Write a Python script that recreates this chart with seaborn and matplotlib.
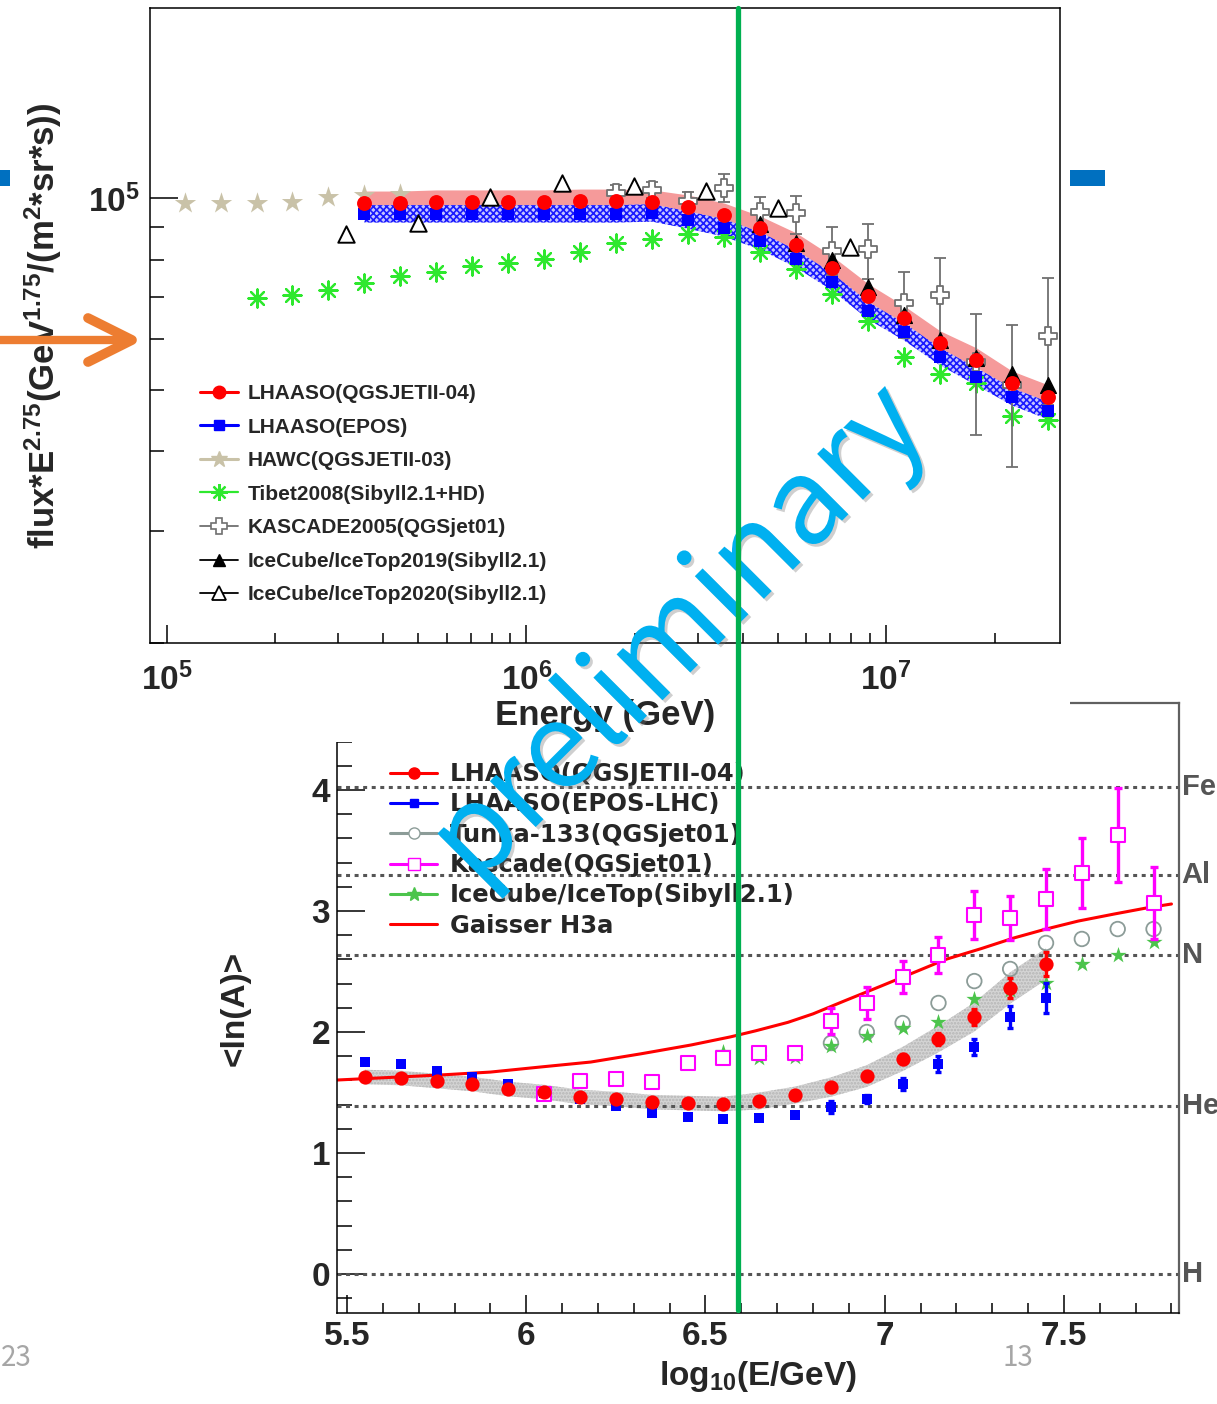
import numpy as np
import matplotlib
matplotlib.use('Agg')
import matplotlib.pyplot as plt
import seaborn as sns
from matplotlib.lines import Line2D
from matplotlib.patches import Rectangle
import matplotlib.patheffects as pe

# ---------------- top panel: flux*E^2.75 vs energy ----------------
lhaaso_loge = [5.55, 5.65, 5.75, 5.85, 5.95, 6.05, 6.15, 6.25, 6.35, 6.45,
               6.55, 6.65, 6.75, 6.85, 6.95, 7.05, 7.15, 7.25, 7.35, 7.45]
qgs_flux = [98200, 98200, 98600, 98600, 98600, 98600, 98900, 98900, 98600, 96800,
            94000, 89700, 84400, 77600, 70200, 64800, 59200, 55700, 51200, 48700]
epos_flux = [94400, 94400, 94400, 94400, 94400, 94400, 94400, 94400, 94700, 92300,
             89700, 85600, 80200, 73800, 66500, 61600, 56300, 52400, 48700, 46300]
qgs_sys = (0.045, 0.025)    # relative band up / down
epos_sys = (0.033, 0.030)

hawc_loge = [5.05, 5.15, 5.25, 5.35, 5.45, 5.55, 5.65]
hawc_flux = [98200, 98200, 98200, 98600, 100400, 101100, 101500]

tibet_loge = [5.25, 5.35, 5.45, 5.55, 5.65, 5.75, 5.85, 5.95, 6.05, 6.15, 6.25, 6.35,
              6.45, 6.55, 6.65, 6.75, 6.85, 6.95, 7.05, 7.15, 7.25, 7.35, 7.45]
tibet_flux = [69700, 70400, 71700, 73500, 75400, 76500, 78200, 79100, 80200, 82300, 85000, 86200,
              87800, 86800, 82300, 77400, 70700, 64100, 56300, 52900, 51200, 45500, 44800]

kascade05_loge = [6.25, 6.35, 6.45, 6.55, 6.65, 6.75, 6.85, 6.95, 7.05, 7.15, 7.25, 7.35, 7.45]
kascade05_flux = [101800, 102900, 98900, 103700, 95100, 94700, 82600, 83200, 68400, 70400, 55300, 50900, 60700]
kascade05_lo = [99300, 100000, 95700, 98600, 90400, 87800, 75700, 74600, 60300, 59900, 42500, 37800, 47300]
kascade05_hi = [104800, 106000, 102200, 109100, 100400, 100700, 90000, 91000, 76500, 80500, 65800, 63200, 74900]

icetop19_loge = [6.65, 6.75, 6.85, 6.95, 7.05, 7.15, 7.25, 7.35, 7.45]
icetop19_flux = [91000, 85000, 79900, 72500, 65500, 59900, 56100, 52900, 50900]

icetop20_loge = [5.5, 5.7, 5.9, 6.1, 6.3, 6.5, 6.7, 6.9]
icetop20_flux = [87800, 91400, 100400, 105600, 104400, 102600, 96400, 83800]

# ---------------- bottom panel: <lnA> vs log10(E/GeV) ----------------
qgs_lna = [1.628, 1.620, 1.595, 1.570, 1.529, 1.504, 1.463, 1.446, 1.421, 1.413,
           1.405, 1.430, 1.479, 1.545, 1.636, 1.777, 1.942, 2.124, 2.364, 2.562]
qgs_lna_err = [0.02, 0.02, 0.02, 0.02, 0.02, 0.02, 0.02, 0.02, 0.02, 0.02,
               0.02, 0.02, 0.02, 0.03, 0.03, 0.04, 0.05, 0.07, 0.08, 0.10]
qgs_band_w = [0.06, 0.06, 0.06, 0.06, 0.06, 0.06, 0.06, 0.06, 0.06, 0.06,
              0.06, 0.07, 0.07, 0.08, 0.09, 0.10, 0.11, 0.12, 0.13, 0.13]
epos_lna = [1.752, 1.736, 1.678, 1.628, 1.570, 1.496, 1.446, 1.388, 1.331, 1.298,
            1.281, 1.289, 1.314, 1.380, 1.446, 1.570, 1.736, 1.876, 2.124, 2.281]
epos_lna_err = [0.02, 0.02, 0.02, 0.02, 0.02, 0.02, 0.02, 0.02, 0.02, 0.02,
                0.02, 0.02, 0.02, 0.05, 0.03, 0.05, 0.065, 0.07, 0.09, 0.12]

tunka_loge = [6.85, 6.95, 7.05, 7.15, 7.25, 7.35, 7.45, 7.55, 7.65, 7.75]
tunka_lna = [1.909, 2.000, 2.074, 2.240, 2.421, 2.521, 2.736, 2.769, 2.851, 2.851]

kascade_loge = [6.05, 6.15, 6.25, 6.35, 6.45, 6.55, 6.65, 6.75, 6.85,
                6.95, 7.05, 7.15, 7.25, 7.35, 7.45, 7.55, 7.65, 7.75]
kascade_lna = [1.488, 1.595, 1.612, 1.587, 1.744, 1.785, 1.826, 1.826, 2.091,
               2.240, 2.455, 2.636, 2.967, 2.942, 3.099, 3.314, 3.628, 3.066]
kascade_lna_err = [0.02, 0.02, 0.02, 0.02, 0.02, 0.02, 0.03, 0.05, 0.11,
                   0.13, 0.13, 0.15, 0.20, 0.18, 0.25, 0.29, 0.39, 0.30]

icetop_loge = [6.55, 6.65, 6.75, 6.85, 6.95, 7.05, 7.15, 7.25, 7.35, 7.45, 7.55, 7.65, 7.75]
icetop_lna = [1.835, 1.785, 1.793, 1.884, 1.967, 2.033, 2.083, 2.273, 2.347, 2.405, 2.562, 2.636, 2.744]

h3a_loge = [5.47, 5.76, 5.90, 6.04, 6.18, 6.32, 6.46, 6.57, 6.64, 6.73, 6.80, 6.89,
            6.99, 7.08, 7.17, 7.27, 7.36, 7.45, 7.54, 7.64, 7.73, 7.80]
h3a_lna = [1.603, 1.645, 1.669, 1.711, 1.752, 1.820, 1.893, 1.960, 2.010, 2.080, 2.150, 2.260,
           2.380, 2.490, 2.600, 2.690, 2.777, 2.851, 2.917, 2.975, 3.025, 3.058]

elements = ['Fe', 'Al', 'N', 'He', 'H']
element_lna = [np.log(56), np.log(27), np.log(14), np.log(4), 0.0]

# ---------------- style ----------------
sns.set_style('ticks')
plt.rcParams['font.family'] = ['Liberation Sans', 'DejaVu Sans']
plt.rcParams['mathtext.fontset'] = 'custom'
plt.rcParams['mathtext.rm'] = 'Liberation Sans'
plt.rcParams['mathtext.bf'] = 'Liberation Sans:bold'
plt.rcParams['mathtext.it'] = 'Liberation Sans:italic'
plt.rcParams['mathtext.default'] = 'bf'
plt.rcParams['hatch.linewidth'] = 1.2

W, H = 1217, 1404
def fx(px):
    return px / W
def fy(py):
    return 1 - py / H

fig = plt.figure(figsize=(W / 100, H / 100), dpi=100)
ax2 = fig.add_axes([fx(337), fy(1313), 842 / W, 610 / H])
ax1 = fig.add_axes([fx(150), fy(643), 910 / W, 635 / H])
ax2.set_zorder(0)
ax1.set_zorder(2)
# white background of the upper picture, hiding the top of the lower one
fig.add_artist(Rectangle((0, fy(742)), fx(1070), 742 / H, transform=fig.transFigure,
                         facecolor='white', edgecolor='none', zorder=1))

RED, BLUE = '#ff0000', '#0000ff'
TAN, TIBET = '#c9c2a8', '#2ee82e'
KGRAY = '#707070'
ASTER = (8, 2, 0)

# ---------------- top panel ----------------
ax1.set_xscale('log')
ax1.set_yscale('log')
e_lh = np.power(10.0, lhaaso_loge)
qgs = np.array(qgs_flux, float)
epos = np.array(epos_flux, float)
ax1.fill_between(e_lh, qgs * (1 + qgs_sys[0]), qgs * (1 - qgs_sys[1]),
                 color='#f59a9a', lw=0, zorder=1)
ax1.fill_between(e_lh, epos * (1 + epos_sys[0]), epos * (1 - epos_sys[1]),
                 facecolor='#c4c4ff', edgecolor='#1a1aff', hatch='xxxxx', lw=0, zorder=2)

sns.scatterplot(x=np.power(10.0, hawc_loge), y=hawc_flux, ax=ax1, marker='*', s=260,
                color=TAN, edgecolor=TAN, linewidth=0, zorder=3, legend=False)
sns.scatterplot(x=np.power(10.0, tibet_loge), y=tibet_flux, ax=ax1, marker=ASTER, s=170,
                color=TIBET, linewidth=1.6, zorder=3, legend=False)
k_e = np.power(10.0, kascade05_loge)
k_f = np.array(kascade05_flux, float)
ax1.errorbar(k_e, k_f, yerr=[k_f - np.array(kascade05_lo), np.array(kascade05_hi) - k_f],
             fmt='none', ecolor=KGRAY, elinewidth=1.3, capsize=4, capthick=1.3, zorder=3)
sns.scatterplot(x=k_e, y=k_f, ax=ax1, marker='P', s=170, color='white',
                edgecolor=KGRAY, linewidth=1.3, zorder=3, legend=False)
sns.scatterplot(x=np.power(10.0, icetop19_loge), y=icetop19_flux, ax=ax1, marker='^', s=130,
                color='black', edgecolor='black', zorder=3, legend=False)
sns.scatterplot(x=e_lh, y=epos, ax=ax1, marker='s', s=75, color=BLUE, edgecolor=BLUE,
                linewidth=0, zorder=4, legend=False)
sns.scatterplot(x=e_lh, y=qgs, ax=ax1, marker='o', s=115, color=RED, edgecolor=RED,
                linewidth=0, zorder=5, legend=False)
sns.scatterplot(x=np.power(10.0, icetop20_loge), y=icetop20_flux, ax=ax1, marker='^', s=140,
                color='white', edgecolor='black', linewidth=1.4, zorder=5, legend=False)

ax1.set_xlim(10 ** 4.954, 10 ** 7.483)
ax1.set_ylim(2.0e4, 1.99e5)
ax1.set_xticks([1e5, 1e6, 1e7], labels=[r'$10^{5}$', r'$10^{6}$', r'$10^{7}$'])
ax1.set_xticks([d * 10 ** k for k in (5, 6, 7) for d in range(2, 10) if d * 10 ** k < 3.0e7],
               minor=True)
ax1.set_yticks([1e5], labels=[r'$10^{5}$'])
ax1.set_yticks([d * 1e4 for d in range(2, 10)], minor=True)
ax1.xaxis.set_minor_formatter(matplotlib.ticker.NullFormatter())
ax1.yaxis.set_minor_formatter(matplotlib.ticker.NullFormatter())
ax1.tick_params(which='both', direction='in', top=False, right=False, color='black',
                width=1.1, labelsize=24)
ax1.tick_params(axis='x', which='major', length=13, pad=14)
ax1.tick_params(axis='x', which='minor', length=7)
ax1.tick_params(axis='y', which='major', length=20, pad=7)
ax1.tick_params(axis='y', which='minor', length=10)
for s in ax1.spines.values():
    s.set_color('black')
    s.set_linewidth(1.1)
ax1.set_xlabel('Energy (GeV)', fontsize=25, fontweight='bold')
ax1.xaxis.set_label_coords(0.5, -0.088)
ax1.set_ylabel('flux*E$^{2.75}$(GeV$^{1.75}$/(m$^{2}$*sr*s))', fontsize=25, fontweight='bold')
ax1.yaxis.set_label_coords(-0.094, 0.5)

top_handles = [
    Line2D([], [], color=RED, lw=2.2, marker='o', ms=9),
    Line2D([], [], color=BLUE, lw=2.2, marker='s', ms=6.5),
    Line2D([], [], color=TAN, lw=2.2, marker='*', ms=12),
    Line2D([], [], color=TIBET, lw=1.6, marker=ASTER, ms=12, mew=1.6),
    Line2D([], [], color=KGRAY, lw=1.3, marker='P', ms=11, mfc='white', mec=KGRAY, mew=1.2),
    Line2D([], [], color='black', lw=1.3, marker='^', ms=9),
    Line2D([], [], color='black', lw=1.3, marker='^', ms=10, mfc='white', mew=1.3),
]
top_labels = ['LHAASO(QGSJETII-04)', 'LHAASO(EPOS)', 'HAWC(QGSJETII-03)', 'Tibet2008(Sibyll2.1+HD)',
              'KASCADE2005(QGSjet01)', 'IceCube/IceTop2019(Sibyll2.1)', 'IceCube/IceTop2020(Sibyll2.1)']
ax1.legend(top_handles, top_labels, loc='upper left', bbox_to_anchor=(0.055, 0.408),
           frameon=False, borderpad=0, borderaxespad=0, handlelength=1.8, handletextpad=0.5,
           labelspacing=0.70, prop={'family': 'Liberation Sans', 'weight': 'bold', 'size': 15})

# ---------------- bottom panel ----------------
qgs_l = np.array(qgs_lna)
band_w = np.array(qgs_band_w)
ax2.fill_between(lhaaso_loge, qgs_l - band_w, qgs_l + band_w, facecolor='#d4d4d4',
                 edgecolor='#b5b5b5', hatch='.....', lw=0, zorder=1)
for v in element_lna:
    ax2.axhline(v, color='#555555', ls=(0, (1.3, 1.5)), lw=2.2, zorder=1.5)

sns.lineplot(x=h3a_loge, y=h3a_lna, ax=ax2, color=RED, lw=2.2, sort=False, zorder=2)

TUNKA, MAG, ICEG = '#8c9c98', '#ff00ff', '#4cc44c'
sns.scatterplot(x=tunka_loge, y=tunka_lna, ax=ax2, marker='o', s=110, color='none',
                edgecolor=TUNKA, linewidth=1.3, zorder=3, legend=False)
sns.scatterplot(x=icetop_loge, y=icetop_lna, ax=ax2, marker='*', s=150, color=ICEG,
                edgecolor=ICEG, linewidth=0, zorder=3, legend=False)
ax2.errorbar(kascade_loge, kascade_lna, yerr=kascade_lna_err, fmt='none', ecolor=MAG,
             elinewidth=2.4, capsize=3, capthick=2.4, zorder=3)
sns.scatterplot(x=kascade_loge, y=kascade_lna, ax=ax2, marker='s', s=95, color='white',
                edgecolor=MAG, linewidth=1.5, zorder=4, legend=False)
ax2.errorbar(lhaaso_loge, epos_lna, yerr=epos_lna_err, fmt='none', ecolor=BLUE,
             elinewidth=2.4, capsize=2.5, capthick=2.4, zorder=4)
sns.scatterplot(x=lhaaso_loge, y=epos_lna, ax=ax2, marker='s', s=55, color=BLUE,
                edgecolor=BLUE, linewidth=0, zorder=4, legend=False)
ax2.errorbar(lhaaso_loge, qgs_lna, yerr=qgs_lna_err, fmt='none', ecolor=RED,
             elinewidth=2.4, capsize=2.5, capthick=2.4, zorder=5)
sns.scatterplot(x=lhaaso_loge, y=qgs_lna, ax=ax2, marker='o', s=105, color=RED,
                edgecolor=RED, linewidth=0, zorder=5, legend=False)

ax2.set_xlim(5.472, 7.821)
ax2.set_ylim(-0.322, 4.719)
ax2.set_xticks([5.5, 6, 6.5, 7, 7.5], labels=['5.5', '6', '6.5', '7', '7.5'])
ax2.set_xticks([5.5 + 0.1 * i for i in range(24)], minor=True)
ax2.set_yticks([0, 1, 2, 3, 4], labels=['0', '1', '2', '3', '4'])
ax2.set_yticks([-0.2 + 0.2 * i for i in range(25)], minor=True)
ax2.tick_params(which='both', direction='in', top=False, right=False, color='black',
                width=1.1, labelsize=24)
ax2.tick_params(axis='x', which='major', length=13, pad=6)
ax2.tick_params(axis='x', which='minor', length=7)
ax2.tick_params(axis='y', which='major', length=20, pad=5)
ax2.tick_params(axis='y', which='minor', length=11)
for t in ax2.get_xticklabels() + ax2.get_yticklabels():
    t.set_fontweight('bold')
for t in ax1.get_xticklabels() + ax1.get_yticklabels():
    t.set_fontweight('bold')
ax2.spines['left'].set_color('black')
ax2.spines['bottom'].set_color('black')
ax2.spines['left'].set_linewidth(1.1)
ax2.spines['bottom'].set_linewidth(1.1)
for side in ('right', 'top'):
    ax2.spines[side].set_color('#606060')
    ax2.spines[side].set_linewidth(1.6)
ax2.set_xlabel('log$_{10}$(E/GeV)', fontsize=24, fontweight='bold')
ax2.xaxis.set_label_coords(0.5, -0.075)
ax2.set_ylabel('<ln(A)>', fontsize=24, fontweight='bold')
ax2.yaxis.set_label_coords(-0.103, 0.5)

for name, v in zip(elements, element_lna):
    ax2.text(1.003, v, name, transform=ax2.get_yaxis_transform(), ha='left', va='center',
             fontsize=21, fontweight='bold', color='#555555', clip_on=False)

bot_handles = [
    Line2D([], [], color=RED, lw=2.2, marker='o', ms=8),
    Line2D([], [], color=BLUE, lw=2.2, marker='s', ms=6),
    Line2D([], [], color=TUNKA, lw=2.2, marker='o', ms=8, mfc='white', mec=TUNKA),
    Line2D([], [], color=MAG, lw=2.2, marker='s', ms=8, mfc='white', mec=MAG),
    Line2D([], [], color=ICEG, lw=2.2, marker='*', ms=10),
    Line2D([], [], color=RED, lw=2.2),
]
bot_labels = ['LHAASO(QGSJETII-04)', 'LHAASO(EPOS-LHC)', 'Tunka-133(QGSjet01)',
              'Kascade(QGSjet01)', 'IceCube/IceTop(Sibyll2.1)', 'Gaisser H3a']
ax2.legend(bot_handles, bot_labels, loc='upper left', bbox_to_anchor=(0.063, 0.903),
           frameon=False, borderpad=0, borderaxespad=0, handlelength=1.95, handletextpad=0.5,
           labelspacing=0.26, prop={'family': 'DejaVu Sans', 'weight': 'bold', 'size': 17.5})

# ---------------- slide decorations ----------------
fig.add_artist(Rectangle((0, fy(186)), fx(10), 16 / H, transform=fig.transFigure,
                         facecolor='#0070c0', edgecolor='none', zorder=8))
fig.add_artist(Rectangle((fx(1070), fy(186)), 35 / W, 16 / H, transform=fig.transFigure,
                         facecolor='#0070c0', edgecolor='none', zorder=8))
ORANGE = '#ed7d31'
fig.add_artist(Line2D([fx(0), fx(128)], [fy(340), fy(340)], transform=fig.transFigure,
                      color=ORANGE, lw=6, solid_capstyle='butt', zorder=8))
fig.add_artist(Line2D([fx(88), fx(132), fx(88)], [fy(318), fy(340), fy(362)],
                      transform=fig.transFigure, color=ORANGE, lw=7,
                      solid_capstyle='round', solid_joinstyle='round', zorder=8))

fig.text(fx(680), fy(635), 'preliminary', rotation=45, rotation_mode='anchor',
         ha='center', va='center', fontsize=86, color='#00b0f0',
         family=['Noto Sans CJK SC', 'DejaVu Sans'], zorder=9,
         path_effects=[pe.SimplePatchShadow(offset=(2, -2), shadow_rgbFace='#777777', alpha=0.35),
                       pe.Normal()])
fig.add_artist(Line2D([fx(738), fx(738)], [fy(8), fy(1310)], transform=fig.transFigure,
                      color='#00b050', lw=3.8, zorder=10))

fig.text(fx(1), fy(1358), '23', ha='left', va='center', fontsize=20, color='#a6a6a6',
         family=['Noto Sans CJK SC', 'DejaVu Sans'], zorder=8)
fig.text(fx(1018), fy(1358), '13', ha='center', va='center', fontsize=20, color='#a6a6a6',
         family=['Noto Sans CJK SC', 'DejaVu Sans'], zorder=8)

fig.savefig('out.png', dpi=100, facecolor='white')
